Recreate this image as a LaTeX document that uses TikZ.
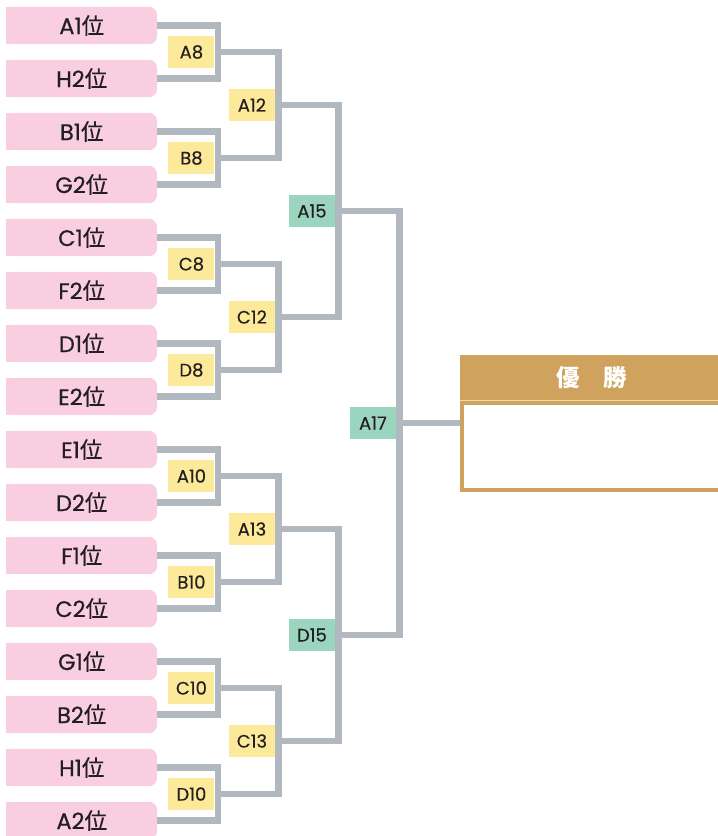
\documentclass[tikz,border=0pt]{standalone}
\usepackage{fontspec}
\setmainfont{Poppins}
\newfontfamily\popm[FakeBold=0.6,Numbers=Monospaced]{Poppins}
\newfontfamily\popl[FakeBold=0.3,Numbers=Monospaced]{Poppins}
\newfontfamily\cjk{Noto Sans CJK JP}
\newfontfamily\cjkm[FakeBold=0.4]{Noto Sans CJK JP}
\usetikzlibrary{backgrounds}
\definecolor{pinkc}{HTML}{F8CEE0}
\definecolor{wirec}{HTML}{B1B8BF}
\definecolor{yelc}{HTML}{FCEA9A}
\definecolor{grnc}{HTML}{9BD4BF}
\definecolor{goldc}{HTML}{CFA35D}
\definecolor{palec}{HTML}{EDD9B3}
\definecolor{ink}{HTML}{231F20}
\tikzset{
  team/.style={fill=pinkc, rounded corners=8pt, minimum width=150.5pt, minimum height=37.4pt,
    inner sep=0pt, font=\popm\fontsize{22.5}{22.5}\selectfont, text=ink},
  matchy/.style={fill=yelc, minimum width=46pt, minimum height=31.5pt, inner sep=0pt,
    anchor=east, font=\popl\fontsize{18}{18}\selectfont, text=ink},
  matchg/.style={matchy, fill=grnc},
  wire/.style={draw=wirec, line width=6.7pt, line join=miter},
}
\begin{document}
\begin{tikzpicture}[x=1pt,y=-1pt]
\useasboundingbox (0,0) rectangle (718,836);
% teams
\foreach \t [count=\i from 0] in {A1,H2,B1,G2,C1,F2,D1,E2,E1,D2,F1,C2,G1,B2,H1,A2}{
  \node[team] (p\i) at (81.75,25.5+53*\i) {\t{\cjkm 位}};
  \begin{scope}[on background layer]
    \fill[pinkc] (p\i.south west) rectangle (p\i.north);
  \end{scope}
}
% match points
\foreach \j in {0,...,7} \coordinate (a\j) at (218,52+106*\j);
\foreach \j in {0,...,3} \coordinate (b\j) at (278.5,105+212*\j);
\foreach \j in {0,1} \coordinate (c\j) at (338.5,211+424*\j);
\coordinate (d0) at (399.5,423);
% winner box
\node[fill=goldc, minimum width=264pt, minimum height=45pt, anchor=north west, inner sep=0pt,
  outer sep=0pt, text=white, font=\cjk\bfseries\fontsize{23.5}{23.5}\selectfont] (wint) at (460,355) {優\hspace{1em}勝};
\fill[palec] (wint.south west) rectangle ([yshift=-1pt]wint.south east);
\node[draw=goldc, line width=4pt, fill=white, anchor=north west, minimum width=262pt,
  minimum height=86.7pt, inner sep=0pt, outer sep=2pt] (win) at (460,401) {};
% wires
\foreach \j [evaluate=\j as \a using int(2*\j), evaluate=\j as \b using int(2*\j+1)] in {0,...,7}
  \draw[wire] (p\a.east) -| (a\j) |- (p\b.east);
\foreach \j [evaluate=\j as \a using int(2*\j), evaluate=\j as \b using int(2*\j+1)] in {0,...,3}
  \draw[wire] (a\a) -| (b\j) |- (a\b);
\foreach \j [evaluate=\j as \a using int(2*\j), evaluate=\j as \b using int(2*\j+1)] in {0,1}
  \draw[wire] (b\a) -| (c\j) |- (b\b);
\draw[wire] (c0) -| (d0) |- (c1);
\draw[wire] (d0) -- (d0 -| win.west);
% match labels
\foreach \n [count=\j from 0] in {A8,B8,C8,D8,A10,B10,C10,D10}
  \node[matchy] (ma\j) at ([xshift=-3.35pt]a\j) {\n};
\foreach \n [count=\j from 0] in {A12,C12,A13,C13}
  \node[matchy] (mb\j) at ([xshift=-3.35pt]b\j) {\n};
\foreach \n [count=\j from 0] in {A15,D15}
  \node[matchg] (mc\j) at ([xshift=-3.35pt]c\j) {\n};
\node[matchg] (md0) at ([xshift=-3.35pt]d0) {A17};
\end{tikzpicture}
\end{document}
